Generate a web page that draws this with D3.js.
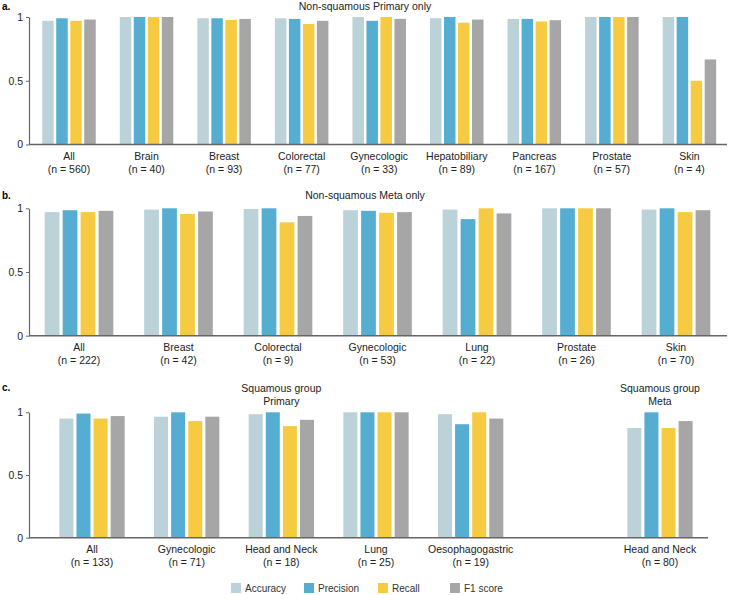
<!DOCTYPE html>
<html><head><meta charset="utf-8">
<script src="https://cdn.jsdelivr.net/npm/d3@7/dist/d3.min.js"></script>
<style>body{margin:0;background:#fff}svg{display:block;font-family:"Liberation Sans",Arial,sans-serif}</style>
</head><body><svg id="c" width="729" height="595"></svg>
<script>
const metrics = ["Accuracy","Precision","Recall","F1 score"];
const colors = ["#bbd2d9","#55aed1","#f6cb42","#a6a6a6"];

const aCategories = ["All","Brain","Breast","Colorectal","Gynecologic","Hepatobiliary","Pancreas","Prostate","Skin"];
const aN = [560,40,93,77,33,89,167,57,4];
const aAccuracy  = [0.97,1.00,0.99,0.99,1.00,0.99,0.985,1.00,1.00];
const aPrecision = [0.99,1.00,0.99,0.985,0.97,1.00,0.985,1.00,1.00];
const aRecall    = [0.97,1.00,0.977,0.945,1.00,0.955,0.965,1.00,0.50];
const aF1        = [0.98,1.00,0.985,0.97,0.985,0.98,0.975,1.00,0.667];

const bCategories = ["All","Breast","Colorectal","Gynecologic","Lung","Prostate","Skin"];
const bN = [222,42,9,53,22,26,70];
const bAccuracy  = [0.97,0.99,0.995,0.985,0.99,1.00,0.99];
const bPrecision = [0.985,1.00,1.00,0.98,0.915,1.00,1.00];
const bRecall    = [0.97,0.955,0.89,0.965,1.00,1.00,0.97];
const bF1        = [0.98,0.975,0.94,0.97,0.96,1.00,0.985];

// "" marks the empty slot between the two squamous groups
const cCategories = ["All","Gynecologic","Head and Neck","Lung","Oesophagogastric","","Head and Neck"];
const cN = [133,71,18,25,19,null,80];
const cAccuracy  = [0.95,0.965,0.985,1.00,0.985,null,0.875];
const cPrecision = [0.99,1.00,1.00,1.00,0.905,null,1.00];
const cRecall    = [0.95,0.93,0.89,1.00,1.00,null,0.875];
const cF1        = [0.97,0.965,0.94,1.00,0.95,null,0.93];

const yTicks = [0,0.5,1];

const svg = d3.select("#c");
const axisColor = "#666";

function panel(cfg){
  const g = svg.append("g");
  const idx = d3.range(cfg.cats.length);
  const x = d3.scaleBand().domain(idx).range(cfg.xr).paddingInner(0.31).paddingOuter(0.155);
  const xi = d3.scaleBand().domain(d3.range(4)).range([0,x.bandwidth()]).paddingInner(0.18);
  const y = d3.scaleLinear().domain([0,1]).range([cfg.y0,cfg.y1]);
  const series = cfg.series;
  idx.forEach(i=>{
    if(cfg.cats[i]==="") return;
    series.forEach((s,k)=>{
      g.append("rect").attr("x",x(i)+xi(k)).attr("width",xi.bandwidth())
        .attr("y",y(s[i])).attr("height",y(0)-y(s[i])).attr("fill",colors[k]);
    });
    const cx = x(i)+x.bandwidth()/2;
    g.append("text").attr("x",cx).attr("y",cfg.y0+15.5).attr("text-anchor","middle")
      .attr("font-size",10.5).attr("fill","#222").text(cfg.cats[i]);
    g.append("text").attr("x",cx).attr("y",cfg.y0+28.5).attr("text-anchor","middle")
      .attr("font-size",10.5).attr("fill","#222").text("(n = "+cfg.n[i]+")");
  });
  // x baseline
  g.append("line").attr("x1",cfg.axisX0).attr("x2",cfg.axisX1).attr("y1",y(0)).attr("y2",y(0))
    .attr("stroke",axisColor).attr("stroke-width",1.5);
  const ax = g.append("g").attr("transform",`translate(${cfg.axisX0},0)`)
    .call(d3.axisLeft(y).tickValues(yTicks).tickSize(3).tickSizeOuter(0).tickFormat(d=>d===0.5?"0.5":String(d)));
  ax.select(".domain").attr("stroke",axisColor).attr("stroke-width",1.2);
  ax.selectAll(".tick line").attr("stroke",axisColor);
  ax.selectAll(".tick text").attr("font-size",10.5).attr("fill","#222").attr("font-family","Liberation Sans, Arial, sans-serif");
  g.append("text").attr("x",2).attr("y",cfg.labelY).attr("font-size",10).attr("font-weight","bold").text(cfg.letter);
  cfg.titles.forEach(t=>{
    const cx = t.at!=null ? x(t.at)+x.bandwidth()/2 : t.x;
    t.lines.forEach((ln,j)=>{
      g.append("text").attr("x",cx).attr("y",t.y+j*13).attr("text-anchor","middle")
        .attr("font-size",10.5).attr("fill","#222").text(ln);
    });
  });
}

panel({cats:aCategories,n:aN,series:[aAccuracy,aPrecision,aRecall,aF1],
  xr:[30.2,728.2],y0:144.5,y1:17,axisX0:29,axisX1:727,letter:"a.",labelY:10,
  titles:[{x:365,y:10,lines:["Non-squamous Primary only"]}]});
panel({cats:bCategories,n:bN,series:[bAccuracy,bPrecision,bRecall,bF1],
  xr:[29.25,725.75],y0:335.7,y1:208.3,axisX0:29,axisX1:727,letter:"b.",labelY:199,
  titles:[{x:365,y:199,lines:["Non-squamous Meta only"]}]});
panel({cats:cCategories,n:cN,series:[cAccuracy,cPrecision,cRecall,cF1],
  xr:[44.7,707.3],y0:537.7,y1:412.3,axisX0:29,axisX1:708,letter:"c.",labelY:391,
  titles:[{at:2,y:392,lines:["Squamous group","Primary"]},{at:6,y:392,lines:["Squamous group","Meta"]}]});

// legend
const legX = [231,304,378,450];
const lg = svg.append("g");
metrics.forEach((m,k)=>{
  lg.append("rect").attr("x",legX[k]).attr("y",583).attr("width",10).attr("height",10).attr("fill",colors[k]);
  lg.append("text").attr("x",legX[k]+14).attr("y",592).attr("font-size",10).attr("fill","#333").text(m);
});
</script></body></html>
